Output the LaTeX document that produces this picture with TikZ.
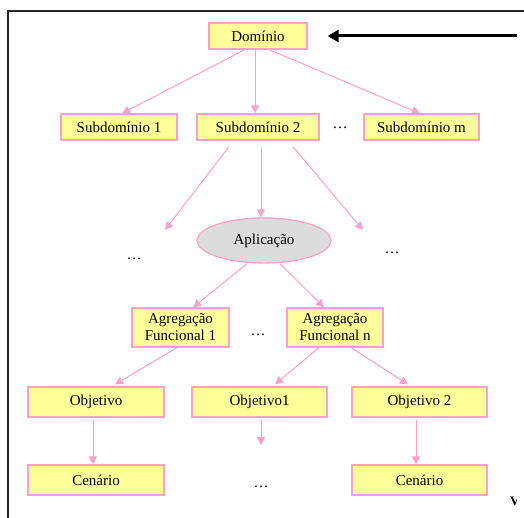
\documentclass[tikz,border=0pt]{standalone}
\usepackage{fontspec}
\setmainfont{Liberation Serif}
\usetikzlibrary{arrows.meta,shapes.geometric}
\definecolor{boxfill}{HTML}{FFFF99}
\definecolor{boxline}{HTML}{FF9FCC}
\definecolor{ellfill}{HTML}{DCDCDC}
\tikzset{
  box/.style={draw=boxline, line width=1.2pt, fill=boxfill, inner sep=0pt,
    align=center, font=\fontsize{15}{17}\selectfont},
  oval/.style={ellipse, draw=boxline, line width=1.2pt, fill=ellfill, inner sep=0pt,
    font=\fontsize{15}{17}\selectfont},
  gap/.style={inner sep=0pt, font=\fontsize{15}{17}\selectfont},
  edge/.style={draw=boxline, line width=1pt, -{Triangle[length=8pt,width=8pt]}},
  bigarrow/.style={draw=black, line width=3pt, -{Triangle[length=11pt,width=12pt]}},
  frame/.style={draw=black!85, line width=2.2pt}
}
\begin{document}
\begin{tikzpicture}[x=1pt,y=-1pt]
\useasboundingbox (0,0) rectangle (524,518);

% outer frame
\draw[frame] (8,520) -- (8,11) -- (526,11);

% nodes
\node[box, minimum width=98, minimum height=26] (dom) at (258,36) {Domínio};
\node[box, minimum width=116, minimum height=26] (s1) at (119,127) {Subdomínio 1};
\node[box, minimum width=122, minimum height=26] (s2) at (258,127) {Subdomínio 2};
\node[box, minimum width=115, minimum height=26] (sm) at (421.5,127) {Subdomínio m};
\node[gap] (d1) at (340,128) {\ldots};

\node[oval, minimum width=134, minimum height=45] (app) at (264,240.5) {Aplicação};
\node[gap] (d2) at (134,259) {\ldots};
\node[gap] (d3) at (392,253) {\ldots};

\node[box, minimum width=97, minimum height=39] (ag1) at (180.5,327.5) {Agregação\\Funcional 1};
\node[box, minimum width=96, minimum height=39] (agn) at (335,327.5) {Agregação\\Funcional n};
\node[gap] (d4) at (258,335) {\ldots};

\node[box, minimum width=136, minimum height=30] (o) at (96,402) {Objetivo};
\node[box, minimum width=135, minimum height=30] (o1) at (259.5,402) {Objetivo1};
\node[box, minimum width=135, minimum height=30] (o2) at (419.5,402) {Objetivo 2};

\node[box, minimum width=136, minimum height=30] (c) at (96,480) {Cenário};
\node[box, minimum width=135, minimum height=30] (c2) at (419.5,480) {Cenário};
\node[gap] (d5) at (261,487) {\ldots};

% free ends of open connectors
\coordinate (tL) at (165,230);
\coordinate (tR) at (363,230);
\coordinate (t1) at (261,445);
\coordinate (src) at (517,36);

% connectors
\draw[edge] ([xshift=-13pt]dom.south) -- ([xshift=3pt]s1.north);
\draw[edge] ([xshift=-3pt]dom.south) -- ([xshift=-3pt]s2.north);
\draw[edge] ([xshift=11pt]dom.south) -- ([xshift=-1.5pt]sm.north);

\draw[edge] ([xshift=-29pt,yshift=-6pt]s2.south) -- (tL);
\draw[edge] ([xshift=3pt,yshift=-6pt]s2.south) -- ([xshift=-3pt]app.north);
\draw[edge] ([xshift=35pt,yshift=-6pt]s2.south) -- (tR);

\draw[edge] ([xshift=-17pt]app.south) -- ([xshift=12.5pt]ag1.north);
\draw[edge] ([xshift=16pt]app.south) -- ([xshift=-11pt]agn.north);

\draw[edge] ([xshift=-3.5pt]ag1.south) -- ([xshift=19pt,yshift=2pt]o.north);
\draw[edge] ([xshift=-16pt]agn.south) -- ([xshift=15.5pt,yshift=2pt]o1.north);
\draw[edge] ([xshift=16pt]agn.south) -- ([xshift=-11.5pt,yshift=2pt]o2.north);

\draw[edge] ([xshift=-3pt,yshift=-2pt]o.south) -- ([xshift=-3pt]c.north);
\draw[edge] ([xshift=1.5pt,yshift=-2pt]o1.south) -- (t1);
\draw[edge] ([xshift=-3.5pt,yshift=-2pt]o2.south) -- ([xshift=-3.5pt]c2.north);

% incoming arrow
\draw[bigarrow] (src) -- ([xshift=20pt]dom.east);

% cut-off glyph at the lower right
\begin{scope}
\clip (509,496) rectangle (516,507);
\node[gap, anchor=north west] (cut) at (510,497) {\fontsize{13}{13}\selectfont\bfseries V};
\end{scope}
\end{tikzpicture}
\end{document}
